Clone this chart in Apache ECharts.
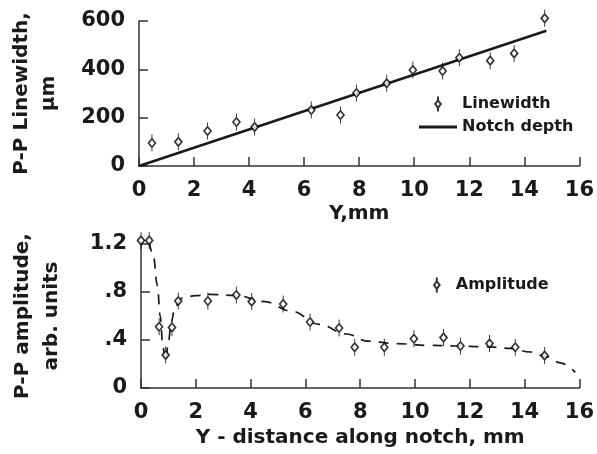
<!DOCTYPE html>
<html>
<head>
<meta charset="utf-8">
<script src="https://cdn.jsdelivr.net/npm/echarts@6/dist/echarts.min.js"></script>
<style>
html,body{margin:0;padding:0;background:#fff;}
#chart{width:597px;height:454px;}
</style>
</head>
<body>
<div id="chart"></div>
<script>
// ---- data ----
const lwX = [0.47, 1.43, 2.49, 3.54, 4.2, 6.26, 7.32, 7.9, 9.0, 9.95, 11.03, 11.64, 12.76, 13.63, 14.74];
const lwY = [95, 100, 145, 182, 161, 232, 211, 302, 342, 397, 393, 448, 436, 466, 611];
const notchX = [0, 14.8];
const notchY = [0, 560];
const ampX = [0, 0.3, 0.66, 0.9, 1.13, 1.36, 2.44, 3.48, 4.04, 5.19, 6.17, 7.23, 7.8, 8.88, 9.96, 11.04, 11.66, 12.72, 13.66, 14.73];
const ampY = [1.23, 1.23, 0.51, 0.275, 0.505, 0.725, 0.725, 0.775, 0.72, 0.70, 0.55, 0.50, 0.34, 0.34, 0.41, 0.42, 0.35, 0.37, 0.34, 0.27];
const curveX = [0.3, 0.45, 0.6, 0.7, 0.8, 0.9, 1.0, 1.1, 1.25, 1.5, 2, 2.5, 3.5, 4.5, 5.5, 6.5, 7.5, 8.3, 9.3, 10.5, 11.5, 12.5, 13.5, 14.2, 14.8, 15.3, 15.85];
const curveY = [1.22, 1.1, 0.85, 0.6, 0.34, 0.22, 0.38, 0.55, 0.68, 0.75, 0.77, 0.78, 0.77, 0.72, 0.64, 0.53, 0.45, 0.39, 0.37, 0.355, 0.35, 0.345, 0.33, 0.30, 0.26, 0.21, 0.13];
const xTicks = ['0', '2', '4', '6', '8', '10', '12', '14', '16'];
const lwTicks = ['0', '200', '400', '600'];
const ampTicks = ['0', '.4', '.8', '1.2'];

const pairs = (xs, ys) => xs.map((x, i) => [x, ys[i]]);

const INK = '#1a1a1a';
const FONT = '"DejaVu Sans", sans-serif';
const markerPath = 'path://M3,0L3,4L6,8L3,12L0,8L3,4M3,12L3,16';
const lineIcon = 'path://M0,0L40,0L40,3L0,3Z';

function xAxis(gridIndex, name, gap) {
  return {
    type: 'value', gridIndex, min: 0, max: 16, interval: 2,
    name, nameLocation: 'middle', nameGap: gap,
    nameTextStyle: { fontFamily: FONT, fontWeight: 'bold', fontSize: 20, color: INK },
    axisLine: { show: true, lineStyle: { color: '#333', width: 1.5 } },
    axisTick: { show: true, inside: true, length: 9, lineStyle: { color: '#333', width: 1.5 } },
    axisLabel: { margin: 14, fontFamily: FONT, fontWeight: 'bold', fontSize: 21, color: INK,
      formatter: (v, i) => xTicks[i] },
    splitLine: { show: false }
  };
}
function yAxis(gridIndex, min, max, interval, labels, name, gap, lh) {
  return {
    type: 'value', gridIndex, min, max, interval,
    name, nameLocation: 'middle', nameRotate: 90, nameGap: gap,
    nameTextStyle: { fontFamily: FONT, fontWeight: 'bold', fontSize: 20, color: INK, lineHeight: lh },
    axisLine: { show: true, lineStyle: { color: '#333', width: 1.5 } },
    axisTick: { show: true, inside: true, length: 9, lineStyle: { color: '#333', width: 1.5 } },
    axisLabel: { margin: 14, fontFamily: FONT, fontWeight: 'bold', fontSize: 21, color: INK,
      formatter: (v, i) => labels[i] },
    splitLine: { show: false }
  };
}

const chart = echarts.init(document.getElementById('chart'), null, { renderer: 'canvas' });
chart.setOption({
  backgroundColor: '#fff',
  animation: false,
  grid: [
    { left: 137, right: 16, top: 21, height: 145 },
    { left: 137, right: 16, top: 244, height: 144 }
  ],
  xAxis: [
    xAxis(0, 'Y,mm', 38),
    xAxis(1, 'Y - distance along notch, mm', 40)
  ],
  yAxis: [
    yAxis(0, 0, 600, 200, lwTicks, 'P-P Linewidth,\nμm', 77, 27),
    yAxis(1, 0, 1.2, 0.4, ampTicks, 'P-P amplitude,\narb. units', 75, 29)
  ],
  legend: [
    {
      orient: 'vertical', left: 419, top: 95, padding: 0, itemGap: 5,
      itemWidth: 38, itemHeight: 15,
      textStyle: { fontFamily: FONT, fontWeight: 'bold', fontSize: 16, color: INK, lineHeight: 18 },
      data: ['Linewidth', { name: 'Notch depth', icon: lineIcon }]
    },
    {
      orient: 'vertical', left: 433, top: 276, padding: 0,
      itemWidth: 28, itemHeight: 15,
      textStyle: { fontFamily: FONT, fontWeight: 'bold', fontSize: 16, color: INK, lineHeight: 18 },
      data: ['Amplitude']
    }
  ],
  series: [
    {
      name: 'Notch depth', type: 'line', xAxisIndex: 0, yAxisIndex: 0,
      data: pairs(notchX, notchY), symbol: 'none', showSymbol: false,
      lineStyle: { color: INK, width: 2.6 }, itemStyle: { color: INK }, z: 2
    },
    {
      name: 'Linewidth', type: 'scatter', xAxisIndex: 0, yAxisIndex: 0,
      data: pairs(lwX, lwY), symbol: markerPath, symbolSize: [7, 17], clip: false,
      itemStyle: { color: '#fff', borderColor: '#000', borderWidth: 1.5 }, z: 3
    },
    {
      name: 'Amplitude fit', type: 'line', xAxisIndex: 1, yAxisIndex: 1,
      data: pairs(curveX, curveY), symbol: 'none', showSymbol: false,
      smooth: 0.4, smoothMonotone: 'x',
      lineStyle: { color: INK, width: 1.7, type: [10, 8] }, z: 2
    },
    {
      name: 'Amplitude', type: 'scatter', xAxisIndex: 1, yAxisIndex: 1,
      data: pairs(ampX, ampY), symbol: markerPath, symbolSize: [7, 17], clip: false,
      itemStyle: { color: '#fff', borderColor: '#000', borderWidth: 1.5 }, z: 3
    }
  ]
});
</script>
</body>
</html>
